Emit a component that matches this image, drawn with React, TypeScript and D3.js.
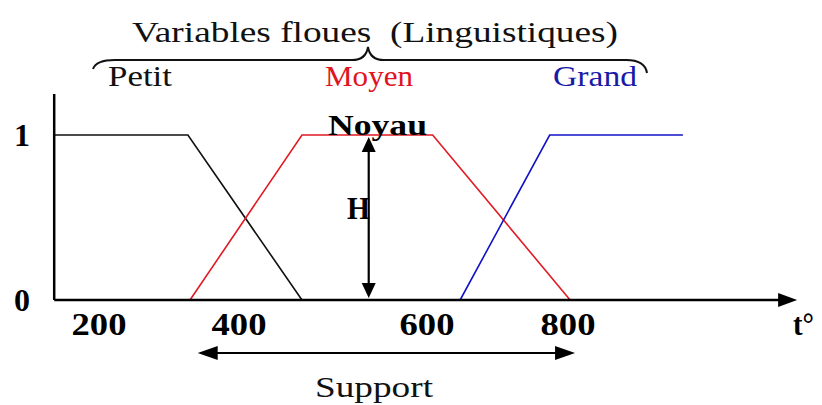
import React from "react";
import * as d3 from "d3";

// ---- data ----
const tickValues = [200, 400, 600, 800];
const tickPixelAnchors = [99, 239, 427, 568]; // picture positions of the tick labels (axis calibration)
const axisStart = 136;
const axisEnd = 1125;

const petitT = [136, 327, 467];
const petitMu = [1, 1, 0];
const moyenT = [330, 467, 608, 803];
const moyenMu = [0, 1, 1, 0];
const grandT = [647, 774, 963];
const grandMu = [0, 1, 1];

const categories = ["Petit", "Moyen", "Grand"];
const categoryColors = ["#111111", "#e0141e", "#1a1aa8"];
const supportRange = [341, 810];
const hPosition = 538;

const W = 822;
const H = 405;

const serif = "Liberation Serif, Tinos, Times New Roman, Times, serif";

export default function App() {
  const x = d3.scaleLinear().domain(tickValues).range(tickPixelAnchors);
  const y = d3.scaleLinear().domain([0, 1]).range([300, 135]);
  const line = d3
    .line<[number, number]>()
    .x((d) => x(d[0]))
    .y((d) => y(d[1]));

  const series = [
    petitT.map((t, i) => [t, petitMu[i]] as [number, number]),
    moyenT.map((t, i) => [t, moyenMu[i]] as [number, number]),
    grandT.map((t, i) => [t, grandMu[i]] as [number, number]),
  ];
  const seriesColors = ["#111111", "#e01a24", "#1212c8"];

  const x0 = x(axisStart);
  const x1 = x(axisEnd);
  const y0 = y(0);
  const y1 = y(1);

  const hx = x(hPosition);
  const sx0 = x(supportRange[0]);
  const sx1 = x(supportRange[1]);
  const sy = 353;

  const catX = [108, 325, 553];
  const catW = [64, 88, 84];
  const ts = { fontFamily: serif } as React.CSSProperties;

  return (
    <svg
      width={W}
      height={H}
      style={{ position: "absolute", left: 0, top: 0, background: "#fff", fontFamily: serif }}
    >
      {/* title */}
      <text
        x={132}
        y={42}
        fontSize={30}
        fill="#111"
        textLength={486}
        lengthAdjust="spacingAndGlyphs"
        style={{ ...ts, whiteSpace: "pre" }}
      >
        {"Variables floues  (Linguistiques)"}
      </text>
      {/* brace */}
      <path
        d={`M93,69 Q96,60 115,60 L352,60 Q366,60 368,47 Q370,60 384,60 L626,60 Q645,60 647,73`}
        fill="none"
        stroke="#111"
        strokeWidth={2}
      />
      {categories.map((c, i) => (
        <text
          key={c}
          x={catX[i]}
          y={86}
          fontSize={30}
          fill={categoryColors[i]}
          textLength={catW[i]}
          lengthAdjust="spacingAndGlyphs"
          style={ts}
        >
          {c}
        </text>
      ))}

      {/* series */}
      {series.map((s, i) => (
        <path key={i} d={line(s) || ""} fill="none" stroke={seriesColors[i]} strokeWidth={1.6} />
      ))}

      {/* axes */}
      <line x1={x0} y1={y0} x2={x0} y2={94} stroke="#000" strokeWidth={2.5} />
      <line x1={x0} y1={y0} x2={x1 - 10} y2={y0} stroke="#000" strokeWidth={2.5} />
      <path d={`M${x1},${y0} L${x1 - 19},${y0 - 7} L${x1 - 19},${y0 + 7} Z`} fill="#000" />

      {/* y labels */}
      <text x={22} y={y1 + 11} fontSize={32} fontWeight="bold" textAnchor="middle" fill="#000" style={ts}>1</text>
      <text x={22} y={y0 + 11} fontSize={32} fontWeight="bold" textAnchor="middle" fill="#000" style={ts}>0</text>

      {/* x tick labels */}
      {tickValues.map((v) => (
        <text
          key={v}
          x={x(v) - 27.5}
          y={335}
          fontSize={32}
          fontWeight="bold"
          fill="#000"
          textLength={55}
          lengthAdjust="spacingAndGlyphs"
          style={ts}
        >
          {v}
        </text>
      ))}
      <text x={793} y={335} fontSize={32} fontWeight="bold" fill="#000" textLength={21} lengthAdjust="spacingAndGlyphs" style={ts}>
        t°
      </text>

      {/* H arrow */}
      <line x1={hx} y1={y1 + 12} x2={hx} y2={y0 - 12} stroke="#000" strokeWidth={2.2} />
      <path d={`M${hx},${y1 + 2} L${hx - 7},${y1 + 17} L${hx + 7},${y1 + 17} Z`} fill="#000" />
      <path d={`M${hx},${y0 - 2} L${hx - 7},${y0 - 17} L${hx + 7},${y0 - 17} Z`} fill="#000" />
      <text x={347} y={219} fontSize={32} fontWeight="bold" fill="#000" textLength={23} lengthAdjust="spacingAndGlyphs" style={ts}>
        H
      </text>
      <text x={328} y={135} fontSize={30} fontWeight="bold" fill="#000" textLength={99} lengthAdjust="spacingAndGlyphs" style={ts}>
        Noyau
      </text>

      {/* support arrow */}
      <line x1={sx0 + 10} y1={sy} x2={sx1 - 10} y2={sy} stroke="#000" strokeWidth={2.2} />
      <path d={`M${sx0},${sy} L${sx0 + 20},${sy - 7} L${sx0 + 20},${sy + 7} Z`} fill="#000" />
      <path d={`M${sx1},${sy} L${sx1 - 20},${sy - 7} L${sx1 - 20},${sy + 7} Z`} fill="#000" />
      <text x={315} y={397} fontSize={30} fill="#111" textLength={118} lengthAdjust="spacingAndGlyphs" style={ts}>
        Support
      </text>
    </svg>
  );
}
